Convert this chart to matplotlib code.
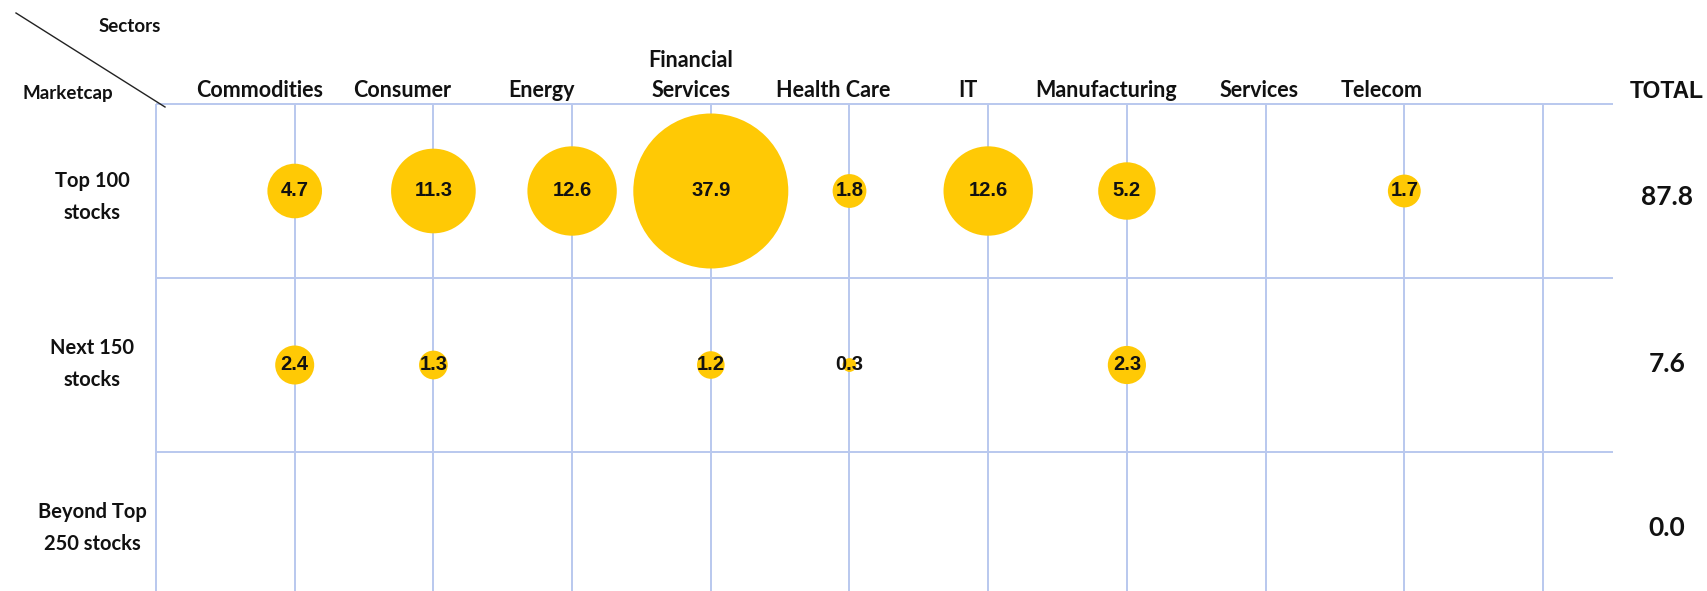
import matplotlib
matplotlib.use("Agg")
import matplotlib.pyplot as plt
import numpy as np

sectors = ['Commodities', 'Consumer', 'Energy', 'Financial\nServices', 'Health Care',
           'IT', 'Manufacturing', 'Services', 'Telecom']
rows = ['Top 100\nstocks', 'Next 150\nstocks', 'Beyond Top\n250 stocks']
top100 = [4.7, 11.3, 12.6, 37.9, 1.8, 12.6, 5.2, 0.0, 1.7]
next150 = [2.4, 1.3, 0.0, 1.2, 0.3, 0.0, 2.3, 0.0, 0.0]
beyond250 = [0.0, 0.0, 0.0, 0.0, 0.0, 0.0, 0.0, 0.0, 0.0]
totals = [87.8, 7.6, 0.0]

# styling: header label shift (px, leftwards) relative to the column line
hdr_shift_px = [35, 31, 31, 20, 16, 20, 21, 7, 23]

W, H = 1708, 591
DPI = 100
fig = plt.figure(figsize=(W / DPI, H / DPI), dpi=DPI)
ax = fig.add_axes([0, 0, 1, 1])

# pixel mapping: x=0 -> 156px, unit = 138.7px ; y=0 -> 191px, unit = 174px
x0, xu = 156.0, 138.7
y0, yu = 191.0, 174.0
ax.set_xlim((0 - x0) / xu, (W - x0) / xu)
ax.set_ylim((H - y0) / yu, (0 - y0) / yu)
ax.axis('off')

grid_c = '#b9c8ee'
ybot = (H - y0) / yu + 0.1
ncol = len(sectors) + 1
for i in range(ncol + 1):
    ax.plot([i, i], [-0.5, ybot], color=grid_c, lw=1.4, zorder=1, solid_capstyle='butt')
xr = (1613 - x0) / xu
for j in range(len(rows)):
    ax.plot([0, xr], [j - 0.5, j - 0.5], color=grid_c, lw=1.4, zorder=1, solid_capstyle='butt')

# bubbles
data = [top100, next150, beyond250]
scale = 12455 / 37.9
bubble_c = '#ffc905'
for j, vals in enumerate(data):
    for i, v in enumerate(vals):
        if v > 0:
            ax.scatter(i + 1, j, s=v * scale, color=bubble_c, edgecolors='none', zorder=3)
            ax.text(i + 1, j, f'{v:.1f}', ha='center', va='center', fontsize=14.5,
                    fontweight='bold', family='Liberation Sans', color='#111111', zorder=4)

hdr_font = 'Lato'
# sector headers
yhdr = (101 - y0) / yu
for i, s in enumerate(sectors):
    ax.text(i + 1 - hdr_shift_px[i] / xu, yhdr, s, ha='center', va='bottom', fontsize=15.5,
            fontweight='bold', family=hdr_font, color='#111111', linespacing=1.55)

# row labels / totals vertical positions
row_y = [(197 - y0) / yu, (364 - y0) / yu, (528 - y0) / yu]
for j, r in enumerate(rows):
    ax.text((92 - x0) / xu, row_y[j], r, ha='center', va='center', fontsize=14.5,
            fontweight='bold', family=hdr_font, color='#111111', linespacing=1.75)

# totals
xt = (1667 - x0) / xu
ax.text(xt, (92 - y0) / yu, 'TOTAL', ha='center', va='center', fontsize=16.5,
        fontweight='bold', family='Liberation Sans', color='#111111')
for j, t in enumerate(totals):
    ax.text(xt, row_y[j], f'{t:.1f}', ha='center', va='center', fontsize=19,
            fontweight='bold', family=hdr_font, color='#111111')

# corner header
ax.plot([(16 - x0) / xu, (165 - x0) / xu], [(13 - y0) / yu, (107 - y0) / yu],
        color='#222222', lw=1.0, zorder=2)
ax.text((130 - x0) / xu, (27 - y0) / yu, 'Sectors', ha='center', va='center',
        fontsize=13.5, fontweight='bold', family=hdr_font, color='#111111')
ax.text((68 - x0) / xu, (94 - y0) / yu, 'Marketcap', ha='center', va='center',
        fontsize=13.5, fontweight='bold', family=hdr_font, color='#111111')

fig.savefig('out.png', dpi=DPI, facecolor='white')
